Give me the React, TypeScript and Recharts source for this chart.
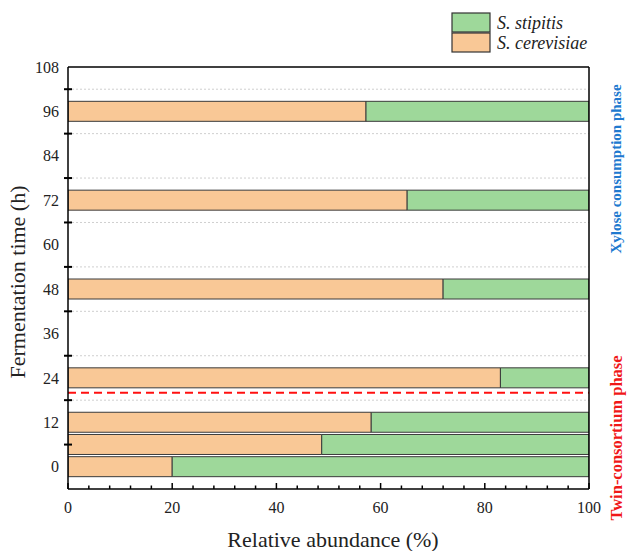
import React from "react";
import { BarChart, Bar, XAxis, YAxis, CartesianGrid, ReferenceLine } from "recharts";

const times = [0, 6, 12, 24, 48, 72, 96];
const cerevisiae = [20.0, 48.7, 58.2, 83.0, 72.0, 65.1, 57.2];
const stipitis = [80.0, 51.3, 41.8, 17.0, 28.0, 34.9, 42.8];
const xTicks = [0, 4, 8, 12, 16, 20, 24, 28, 32, 36, 40, 44, 48, 52, 56, 60, 64, 68, 72, 76, 80, 84, 88, 92, 96, 100];
const yTicks = [0, 6, 12, 18, 24, 30, 36, 42, 48, 54, 60, 66, 72, 78, 84, 90, 96, 102, 108];
const gridValues = [6, 18, 30, 42, 54, 66, 78, 90, 102];
const phaseBoundary = 20;

const data = times.map((t, i) => ({ time: t, cer: cerevisiae[i], sti: stipitis[i] }));

const ORANGE = "#F9C896";
const GREEN = "#9ED89A";
const FONT = "'Liberation Serif', 'Times New Roman', serif";

const XTick = (props: any) => {
  const { x, y, payload } = props;
  const v = payload.value;
  const major = v % 20 === 0;
  return (
    <g>
      <line x1={x} x2={x} y1={y} y2={y - (major ? 6 : 3.5)} stroke="#000" strokeWidth={1.5} />
      {major && (
        <text x={x} y={y + 24} textAnchor="middle" fontFamily={FONT} fontSize={16} fill="#222">
          {v}
        </text>
      )}
    </g>
  );
};

const YTick = (props: any) => {
  const { x, y, payload } = props;
  const v = payload.value;
  if (v % 12 === 0) {
    return (
      <text x={x - 9} y={y} dy="0.35em" textAnchor="end" fontFamily={FONT} fontSize={16} fill="#222">
        {v}
      </text>
    );
  }
  return <line x1={x - 4} x2={x + 4} y1={y} y2={y} stroke="#000" strokeWidth={2} />;
};

export default function App() {
  return (
    <div style={{ position: "absolute", left: 0, top: 0, width: 627, height: 551, background: "#fff" }}>
      <BarChart
        width={627}
        height={551}
        data={data}
        layout="vertical"
        margin={{ top: 67, right: 38, left: 8, bottom: 2 }}
        barSize={20}
      >
        <CartesianGrid horizontal={true} vertical={false} horizontalValues={gridValues} stroke="#cfcfcf" strokeDasharray="2 2" />
        <XAxis
          type="number"
          dataKey="cer"
          domain={[0, 100]}
          ticks={xTicks}
          interval={0}
          height={60}
          tickSize={0}
          tickMargin={0}
          tick={<XTick />}
          axisLine={{ stroke: "#000", strokeWidth: 1.5 }}
          tickLine={false}
          allowDataOverflow
        />
        <YAxis
          type="number"
          dataKey="time"
          domain={[-6, 108]}
          ticks={yTicks}
          interval={0}
          reversed
          width={60}
          tickSize={0}
          tickMargin={0}
          tick={<YTick />}
          axisLine={{ stroke: "#000", strokeWidth: 1.5 }}
          tickLine={false}
          allowDataOverflow
        />
        <Bar dataKey="cer" stackId="a" fill={ORANGE} stroke="#3a3a3a" strokeWidth={1} isAnimationActive={false} />
        <Bar dataKey="sti" stackId="a" fill={GREEN} stroke="#3a3a3a" strokeWidth={1} isAnimationActive={false} />
        <ReferenceLine y={phaseBoundary} stroke="#FF1010" strokeWidth={2} strokeDasharray="8 5" />
        <ReferenceLine y={108} stroke="#000" strokeWidth={1.5} />
        <ReferenceLine x={100} stroke="#000" strokeWidth={1.5} />
      </BarChart>
      <svg
        width={627}
        height={551}
        style={{ position: "absolute", left: 0, top: 0, pointerEvents: "none" }}
      >
        <rect x={452} y={13} width={38} height={19} fill={GREEN} stroke="#333" strokeWidth={1.2} />
        <rect x={452} y={33} width={38} height={19} fill={ORANGE} stroke="#333" strokeWidth={1.2} />
        <text x={497} y={29} fontFamily={FONT} fontStyle="italic" fontSize={18} fill="#222">S. stipitis</text>
        <text x={497} y={49} fontFamily={FONT} fontStyle="italic" fontSize={18} fill="#222">S. cerevisiae</text>
        <text
          x={0}
          y={0}
          transform="translate(25,282) rotate(-90)"
          textAnchor="middle"
          fontFamily={FONT}
          fontSize={22}
          fill="#222"
        >
          Fermentation time (h)
        </text>
        <text x={333} y={547} textAnchor="middle" fontFamily={FONT} fontSize={22} fill="#222">
          Relative abundance (%)
        </text>
        <text
          x={0}
          y={0}
          transform="translate(621,169) rotate(-90)"
          textAnchor="middle"
          fontFamily={FONT}
          fontWeight="bold"
          fontSize={15}
          fill="#2079CF"
        >
          Xylose consumption phase
        </text>
        <text
          x={0}
          y={0}
          transform="translate(622,438) rotate(-90)"
          textAnchor="middle"
          fontFamily={FONT}
          fontWeight="bold"
          fontSize={16.5}
          fill="#F01818"
        >
          Twin-consortium phase
        </text>
      </svg>
    </div>
  );
}
